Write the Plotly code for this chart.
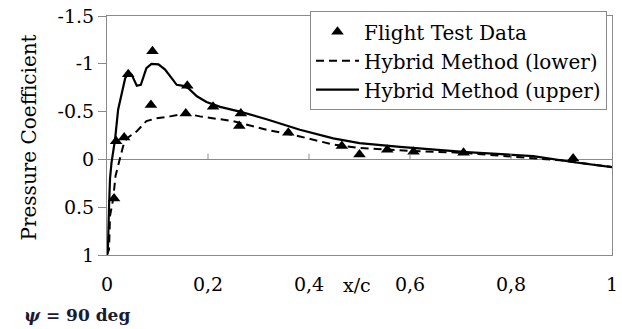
import plotly.graph_objects as go

# Flight test data (x/c, Cp)
flight_x = [0.014, 0.018, 0.034, 0.042, 0.087, 0.09, 0.156, 0.159, 0.21, 0.262, 0.265,
            0.359, 0.465, 0.50, 0.555, 0.607, 0.706, 0.923]
flight_cp = [0.41, -0.19, -0.23, -0.89, -0.57, -1.13, -0.48, -0.77, -0.55, -0.35, -0.48,
             -0.28, -0.14, -0.05, -0.10, -0.08, -0.07, -0.01]

# Hybrid method, lower surface
lower_x = [0.0, 0.004, 0.006, 0.012, 0.017, 0.024, 0.029, 0.032, 0.039, 0.059, 0.078, 0.098,
           0.125, 0.156, 0.184, 0.22, 0.25, 0.316, 0.382, 0.448, 0.50, 0.6, 0.7, 0.8, 0.9, 1.0]
lower_cp = [1.0, 0.94, 0.59, 0.42, 0.17, 0.02, -0.10, -0.14, -0.22, -0.295, -0.40, -0.43,
            -0.45, -0.48, -0.45, -0.42, -0.40, -0.31, -0.24, -0.155, -0.12, -0.09, -0.07,
            -0.03, 0.01, 0.08]

# Hybrid method, upper surface
upper_x = [0.0, 0.002, 0.004, 0.006, 0.009, 0.016, 0.022, 0.029, 0.036, 0.044, 0.049, 0.059,
           0.067, 0.078, 0.088, 0.102, 0.115, 0.128, 0.138, 0.151, 0.161, 0.178, 0.197,
           0.224, 0.263, 0.316, 0.382, 0.448, 0.50, 0.58, 0.712, 0.844, 0.925, 1.0]
upper_cp = [1.0, 0.9, 0.5, 0.2, 0.03, -0.21, -0.52, -0.70, -0.85, -0.91, -0.885, -0.77,
            -0.78, -0.955, -1.0, -0.995, -0.94, -0.85, -0.78, -0.77, -0.745, -0.66, -0.60,
            -0.55, -0.50, -0.42, -0.31, -0.22, -0.17, -0.13, -0.076, -0.035, 0.03, 0.08]

x_ticks = [0, 0.2, 0.4, 0.6, 0.8, 1]
x_ticktext = ["0", "0,2", "0,4", "0,6", "0,8", "1"]
y_ticks = [-1.5, -1, -0.5, 0, 0.5, 1]
y_ticktext = ["-1.5", "-1", "-0.5", "0", "0.5", "1"]

FONT = "DejaVu Serif"
GREY = "#8a8a8a"

fig = go.Figure()
fig.add_trace(go.Scatter(x=lower_x, y=lower_cp, mode="lines", name="Hybrid Method (lower)",
                         line=dict(color="black", width=2, dash="8px,5px"), legendrank=2))
fig.add_trace(go.Scatter(x=upper_x, y=upper_cp, mode="lines", name="Hybrid Method (upper)",
                         line=dict(color="black", width=2.2), legendrank=3))
fig.add_trace(go.Scatter(x=flight_x, y=flight_cp, mode="markers", name="Flight Test Data",
                         marker=dict(symbol="triangle-up", size=11, color="black"),
                         legendrank=1))

# small tick marks sitting on the zero line
shapes = []
for t in x_ticks[1:-1]:
    shapes.append(dict(type="line", xref="x", yref="y", x0=t, x1=t, y0=0, y1=-0.06,
                       line=dict(color=GREY, width=1)))

PL, PR, PT, PB = 107, 612, 16, 255
PW, PH = PR - PL, PB - PT

fig.update_layout(
    width=622, height=329,
    margin=dict(l=PL, r=622 - PR, t=PT, b=329 - PB),
    paper_bgcolor="white", plot_bgcolor="white",
    font=dict(family=FONT, size=19, color="black"),
    showlegend=True,
    legend=dict(x=(310 - PL) / PW, y=1.02, xanchor="left", yanchor="top", bgcolor="white",
                bordercolor=GREY, borderwidth=1, font=dict(size=20, family=FONT),
                tracegroupgap=0, itemwidth=43),
    xaxis=dict(range=[0, 1], tickvals=x_ticks, ticktext=x_ticktext, showgrid=False,
               zeroline=False, showline=True, mirror=True, linecolor=GREY, linewidth=1,
               ticks="outside", ticklen=12, tickcolor="rgba(0,0,0,0)",
               tickfont=dict(size=19, family=FONT), automargin=False),
    yaxis=dict(range=[1, -1.5], tickvals=y_ticks, ticktext=y_ticktext, showgrid=False,
               zeroline=True, zerolinecolor=GREY, zerolinewidth=1,
               showline=True, mirror=True, linecolor=GREY, linewidth=1,
               ticks="outside", ticklen=8, tickcolor=GREY,
               tickfont=dict(size=19, family=FONT), automargin=False),
    shapes=shapes,
    annotations=[
        dict(text="x/c", x=0.495, xref="x", y=(PB - 285) / PH, yref="paper", showarrow=False,
             xanchor="center", yanchor="middle", font=dict(size=19, family=FONT)),
        dict(text="Pressure Coefficient", x=(28 - PL) / PW, xref="paper",
             y=(PB - 137.5) / PH, yref="paper",
             textangle=-90, showarrow=False, xanchor="center", yanchor="middle",
             font=dict(size=20, family=FONT)),
        dict(text="<b><i>ψ</i> = 90 deg</b>", x=(22 - PL) / PW, xref="paper",
             y=(PB - 315) / PH, yref="paper",
             showarrow=False, xanchor="left", yanchor="middle",
             font=dict(size=17, family=FONT, color="#1a1a33")),
    ],
)

fig.write_html("out.html", config={"displayModeBar": False},
               post_script="document.body.style.margin='0';")
